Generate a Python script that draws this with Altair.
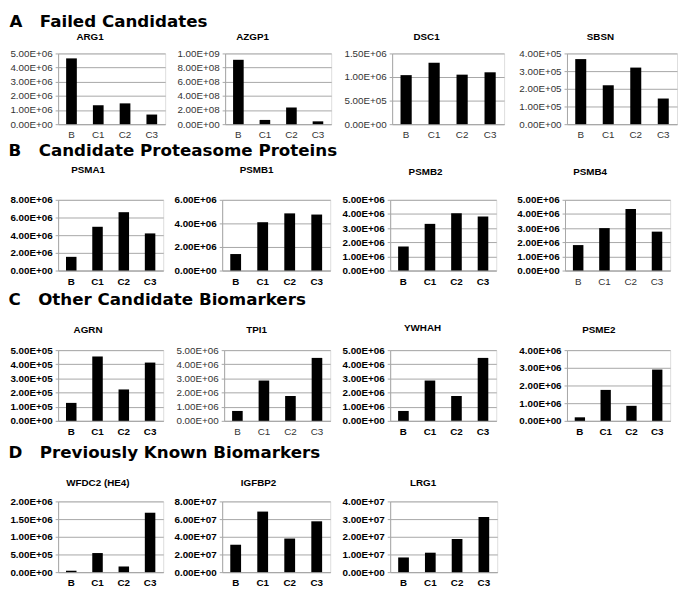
import altair as alt
import pandas as pd

FONT = "Liberation Sans"
SECTION_FONT = "DejaVu Sans"
GRID = "#a6a6a6"

GROUPS = ["B", "C1", "C2", "C3"]

SECTION_TITLES = [
    "A\u00a0\u00a0\u00a0Failed Candidates",
    "B\u00a0\u00a0\u00a0Candidate Proteasome Proteins",
    "C\u00a0\u00a0\u00a0Other Candidate Biomarkers",
    "D\u00a0\u00a0\u00a0Previously Known Biomarkers",
]

# ---- data ----
ARG1 = [4.65e6, 1.33e6, 1.47e6, 0.68e6]
ARG1_TICKS = [0, 1e6, 2e6, 3e6, 4e6, 5e6]
AZGP1 = [9.1e8, 0.6e8, 2.35e8, 0.4e8]
AZGP1_TICKS = [0, 2e8, 4e8, 6e8, 8e8, 1e9]
DSC1 = [1.04e6, 1.30e6, 1.05e6, 1.10e6]
DSC1_TICKS = [0, 5e5, 1e6, 1.5e6]
SBSN = [3.68e5, 2.2e5, 3.2e5, 1.45e5]
SBSN_TICKS = [0, 1e5, 2e5, 3e5, 4e5]

PSMA1 = [1.55e6, 4.95e6, 6.6e6, 4.2e6]
PSMA1_TICKS = [0, 2e6, 4e6, 6e6, 8e6]
PSMB1 = [1.4e6, 4.1e6, 4.85e6, 4.75e6]
PSMB1_TICKS = [0, 2e6, 4e6, 6e6]
PSMB2 = [1.7e6, 3.3e6, 4.05e6, 3.82e6]
PSMB2_TICKS = [0, 1e6, 2e6, 3e6, 4e6, 5e6]
PSMB4 = [1.8e6, 3.0e6, 4.35e6, 2.75e6]
PSMB4_TICKS = [0, 1e6, 2e6, 3e6, 4e6, 5e6]

AGRN = [1.27e5, 4.55e5, 2.22e5, 4.12e5]
AGRN_TICKS = [0, 1e5, 2e5, 3e5, 4e5, 5e5]
TPI1 = [0.7e6, 2.85e6, 1.75e6, 4.45e6]
TPI1_TICKS = [0, 1e6, 2e6, 3e6, 4e6, 5e6]
YWHAH = [0.7e6, 2.85e6, 1.75e6, 4.45e6]
YWHAH_TICKS = [0, 1e6, 2e6, 3e6, 4e6, 5e6]
PSME2 = [0.2e6, 1.75e6, 0.85e6, 2.9e6]
PSME2_TICKS = [0, 1e6, 2e6, 3e6, 4e6]

WFDC2 = [0.04e6, 0.54e6, 0.16e6, 1.68e6]
WFDC2_TICKS = [0, 5e5, 1e6, 1.5e6, 2e6]
IGFBP2 = [3.1e7, 6.85e7, 3.8e7, 5.75e7]
IGFBP2_TICKS = [0, 2e7, 4e7, 6e7, 8e7]
LRG1 = [0.83e7, 1.1e7, 1.88e7, 3.12e7]
LRG1_TICKS = [0, 1e7, 2e7, 3e7, 4e7]

LABEL_EXPR = "replace(format(datum.value, '.2e'), 'e+', 'E+0')"


def panel(name, values, ticks, width, extent, ybold, xbold, title_offset, title_dx=-22):
    df = pd.DataFrame({"group": GROUPS, "value": values})
    yw = "bold" if ybold else "normal"
    xw = "bold" if xbold else "normal"
    return alt.Chart(
        df,
        title=alt.TitleParams(
            name, font=FONT, fontSize=10, fontWeight="bold", color="black",
            frame="group", anchor="middle", offset=title_offset, dx=title_dx,
        ),
    ).mark_bar(color="black").encode(
        x=alt.X(
            "group:N", sort=GROUPS,
            scale=alt.Scale(paddingInner=0.6, paddingOuter=0.3),
            axis=alt.Axis(
                title=None, labelAngle=0, ticks=False, domainColor=GRID,
                labelFont=FONT, labelFontSize=10, labelFontWeight=xw,
                labelColor="black" if xbold else "#333333", labelPadding=6,
            ),
        ),
        y=alt.Y(
            "value:Q",
            scale=alt.Scale(domain=[0, ticks[-1]], nice=False, zero=True),
            axis=alt.Axis(
                title=None, values=ticks, labelExpr=LABEL_EXPR,
                grid=True, gridColor=GRID, domainColor=GRID,
                ticks=True, tickSize=3, tickColor=GRID,
                labelFont=FONT, labelFontSize=10, labelFontWeight=yw,
                labelColor="black" if ybold else "#333333", labelPadding=3,
                minExtent=extent, maxExtent=extent,
            ),
        ),
    ).properties(width=width, height=72)


def row(title, panels, offset):
    return alt.hconcat(
        *panels, spacing=0,
        title=alt.TitleParams(
            title, font=SECTION_FONT, fontSize=17, fontWeight="bold", color="black",
            anchor="start", offset=offset, baseline="top",
        ),
    )


row_a = row(SECTION_TITLES[0], [
    panel("ARG1", ARG1, ARG1_TICKS, 109, 49, False, False, 7),
    panel("AZGP1", AZGP1, AZGP1_TICKS, 108, 59, False, False, 7, -26),
    panel("DSC1", DSC1, DSC1_TICKS, 114, 60, False, False, 7),
    panel("SBSN", SBSN, SBSN_TICKS, 112, 62, False, False, 7, -22),
], 0)
row_b = row(SECTION_TITLES[1], [
    panel("PSMA1", PSMA1, PSMA1_TICKS, 107, 50, True, True, 20, -23),
    panel("PSMB1", PSMB1, PSMB1_TICKS, 110, 58, True, True, 20, -20),
    panel("PSMB2", PSMB2, PSMB2_TICKS, 108, 59, True, True, 18, -18),
    panel("PSMB4", PSMB4, PSMB4_TICKS, 107, 68, True, False, 18, -28),
], 5)
row_c = row(SECTION_TITLES[2], [
    panel("AGRN", AGRN, AGRN_TICKS, 107, 50, True, True, 10, -23),
    panel("TPI1", TPI1, TPI1_TICKS, 108, 60, False, False, 10, -21),
    panel("YWHAH", YWHAH, YWHAH_TICKS, 108, 59, True, True, 12, -21),
    panel("PSME2", PSME2, PSME2_TICKS, 105, 70, True, True, 10, -20),
], 14)
row_d = row(SECTION_TITLES[3], [
    panel("WFDC2 (HE4)", WFDC2, WFDC2_TICKS, 107, 50, True, True, 9, -13),
    panel("IGFBP2", IGFBP2, IGFBP2_TICKS, 110, 58, True, True, 9, -18),
    panel("LRG1", LRG1, LRG1_TICKS, 109, 59, True, True, 9, -21),
], 16)

lower = alt.vconcat(row_b, alt.vconcat(row_c, row_d, spacing=6), spacing=4)
chart = alt.vconcat(row_a, lower, spacing=1).properties(
    padding=0
).configure_view(stroke=None).configure(background="white")

chart.save("out.html", embed_options={"renderer": "svg", "actions": False})
